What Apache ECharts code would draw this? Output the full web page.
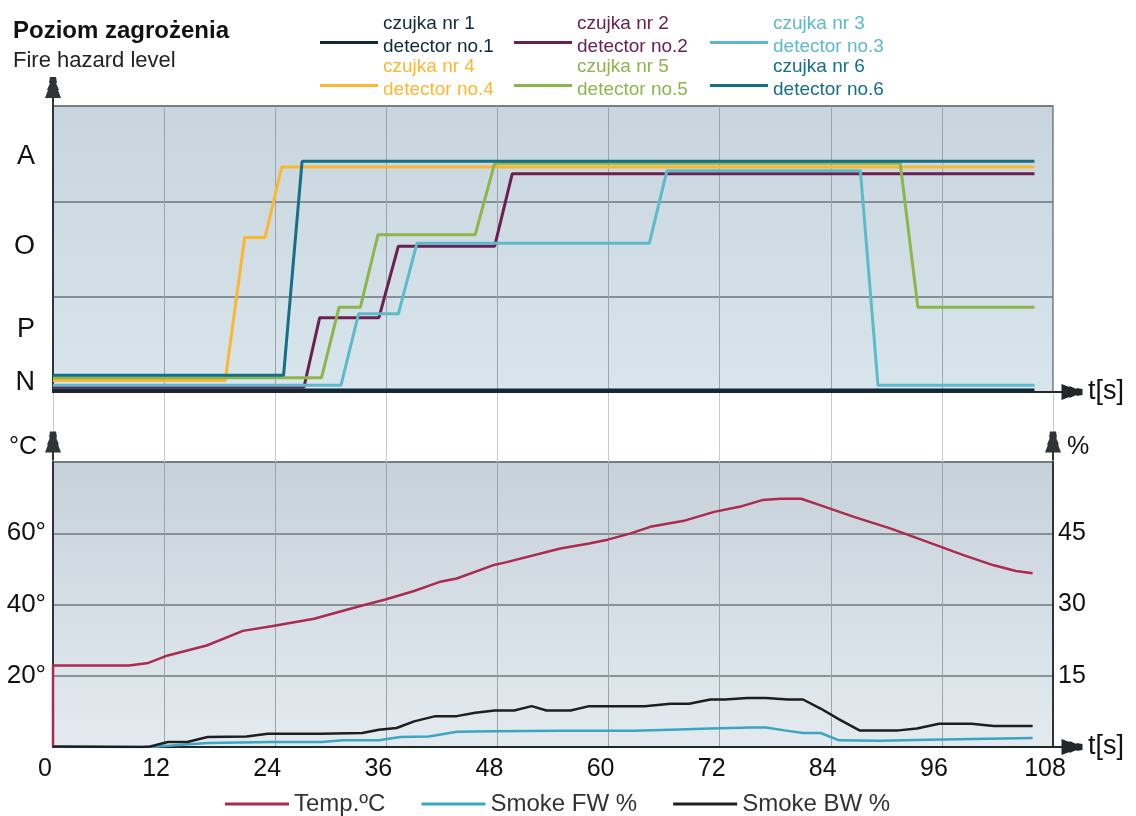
<!DOCTYPE html>
<html>
<head>
<meta charset="utf-8">
<title>Poziom zagrożenia</title>
<script src="https://cdn.jsdelivr.net/npm/echarts@6.0.0/dist/echarts.min.js"></script>
<style>
  html, body { margin: 0; padding: 0; background: #fff; }
  #chart { width: 1136px; height: 816px; }
</style>
</head>
<body>
<div id="chart"></div>
<script>
// time ticks [s]
const timeTicks = [0, 12, 24, 36, 48, 60, 72, 84, 96, 108]

// hazard level axis, one band per level step
const levelNames = ['N', 'P', 'O', 'A']
const levelTicks = [0.1, 0.66, 1.53, 2.47]

// detectors: time [s] / level
const det1T = [0, 106]
const det1V = [0.02, 0.02]
const det2T = [0, 27.1, 28.8, 35.2, 37.3, 47.7, 49.6, 106]
const det2V = [0.05, 0.05, 0.78, 0.78, 1.53, 1.53, 2.29, 2.29]
const det3T = [0, 31.1, 33.0, 37.3, 39.3, 64.4, 66.3, 87.2, 89.1, 106]
const det3V = [0.07, 0.07, 0.82, 0.82, 1.56, 1.56, 2.32, 2.32, 0.07, 0.07]
const det4T = [0, 18.6, 20.7, 22.9, 24.7, 106]
const det4V = [0.12, 0.12, 1.62, 1.62, 2.36, 2.36]
const det5T = [0, 29.0, 30.9, 33.2, 35.1, 45.6, 47.7, 91.5, 93.4, 106]
const det5V = [0.15, 0.15, 0.89, 0.89, 1.65, 1.65, 2.40, 2.40, 0.89, 0.89]
const det6T = [0, 24.9, 26.9, 106]
const det6V = [0.175, 0.175, 2.42, 2.42]

// temperature [°C]
const tempT = [0, 0, 8.2, 10.3, 12.4, 16.6, 20.5, 23.6, 28.2, 32.8, 35.9, 39.0, 41.7, 43.6, 47.5, 49.0, 54.8, 57.9, 59.9, 62.3, 64.5, 68.3, 71.4, 74.4, 76.6, 78.6, 80.8, 82.6, 86.5, 90.5, 94.5, 98.4, 101.6, 104.0, 105.8]
const tempV = [0, 22.9, 22.9, 23.6, 25.7, 28.5, 32.6, 33.9, 36.0, 39.3, 41.4, 43.8, 46.3, 47.3, 51.0, 51.9, 55.7, 57.1, 58.2, 59.9, 61.8, 63.6, 66.0, 67.6, 69.3, 69.7, 69.7, 68.1, 64.6, 61.3, 57.5, 53.8, 51.0, 49.4, 48.8]

// smoke forward / backward [%]
const fwT = [0, 10.5, 16.7, 23.6, 29.0, 31.3, 35.2, 37.5, 40.6, 43.6, 47.5, 54.8, 62.7, 66.7, 71.0, 75.4, 77.0, 79.0, 81.0, 82.9, 84.9, 89.3, 94.5, 105.8]
const fwV = [0, 0, 0.85, 1.05, 1.05, 1.4, 1.4, 2.1, 2.2, 3.2, 3.3, 3.4, 3.4, 3.65, 3.9, 4.1, 4.1, 3.5, 2.95, 2.95, 1.4, 1.3, 1.55, 1.9]
const bwT = [0, 9.7, 10.5, 12.4, 14.5, 16.7, 20.9, 23.2, 29.0, 33.4, 35.2, 37.1, 39.0, 41.3, 43.6, 45.6, 47.7, 49.8, 51.7, 53.3, 55.9, 57.9, 63.9, 66.7, 68.7, 71.0, 72.6, 75.0, 77.0, 79.4, 81.0, 82.9, 84.9, 87.1, 91.3, 93.3, 95.7, 99.2, 101.6, 105.8]
const bwV = [0.1, 0, 0.1, 1.05, 1.05, 2.1, 2.2, 2.8, 2.8, 2.95, 3.65, 4.0, 5.4, 6.5, 6.5, 7.2, 7.7, 7.7, 8.6, 7.7, 7.7, 8.6, 8.6, 9.1, 9.1, 10.0, 10.0, 10.3, 10.3, 10.0, 10.0, 8.1, 5.8, 3.5, 3.5, 3.9, 4.9, 4.9, 4.4, 4.4]

const tempTicks = [20, 40, 60]
const smokeTicks = [15, 30, 45]

const font = "'Liberation Sans', Arial, sans-serif"
const pairs = (t, v) => t.map((x, i) => [x, v[i]])

// arrow head with a short stem, pointing up
const arrowHead = 'path://M5,0L11,0L12,6L11,6L14,13L13,13L16,21L9,21L9,29L7,29L7,21L0,21L3,13L2,13L5,6L4,6Z'
// legend bar sitting in the lower part of its box (tiny dot keeps the box tall)
const legendBar = 'path://M0,0L0.05,0L0,0.05Z M0,15L58,15L58,18L0,18Z'

const plotBg = (top, bottom) => new echarts.graphic.LinearGradient(0, 0, 0, 1, [
  { offset: 0, color: top },
  { offset: 1, color: bottom }
])

const detectors = [
  { name: 'czujka nr 1\ndetector no.1', color: '#10283a', t: det1T, v: det1V, left: 320, top: 12 },
  { name: 'czujka nr 2\ndetector no.2', color: '#6a2052', t: det2T, v: det2V, left: 514, top: 12 },
  { name: 'czujka nr 3\ndetector no.3', color: '#5cbacb', t: det3T, v: det3V, left: 710, top: 12 },
  { name: 'czujka nr 4\ndetector no.4', color: '#fbb730', t: det4T, v: det4V, left: 320, top: 55 },
  { name: 'czujka nr 5\ndetector no.5', color: '#8eb54b', t: det5T, v: det5V, left: 514, top: 55 },
  { name: 'czujka nr 6\ndetector no.6', color: '#146f87', t: det6T, v: det6V, left: 710, top: 55 }
]

const detLegends = detectors.map(d => ({
  data: [d.name],
  left: d.left,
  top: d.top,
  padding: 0,
  icon: legendBar,
  itemWidth: 58,
  itemHeight: 18,
  selectedMode: false,
  textStyle: { color: d.color, fontSize: 19, lineHeight: 23, fontFamily: font }
}))

const detSeries = detectors.map(d => ({
  name: d.name,
  type: 'line',
  xAxisIndex: 0,
  yAxisIndex: 0,
  symbol: 'none',
  color: d.color,
  lineStyle: { width: 3, color: d.color },
  data: pairs(d.t, d.v)
}))

const option = {
  animation: false,
  backgroundColor: '#fff',
  title: {
    text: 'Poziom zagrożenia',
    subtext: 'Fire hazard level',
    left: 13,
    top: 19,
    padding: 0,
    itemGap: 7,
    textStyle: { fontSize: 24, fontWeight: 'bold', color: '#111', fontFamily: font },
    subtextStyle: { fontSize: 22, color: '#222', fontFamily: font }
  },
  legend: [
    ...detLegends,
    {
      data: ['Temp.ºC', 'Smoke FW %', 'Smoke BW %'],
      left: 225,
      top: 792,
      padding: 0,
      icon: 'rect',
      itemWidth: 64,
      itemHeight: 3,
      itemGap: 36,
      selectedMode: false,
      textStyle: { color: '#333', fontSize: 24, fontFamily: font }
    }
  ],
  grid: [
    { left: 53, right: 83, top: 106, height: 286, show: true, backgroundColor: plotBg('#c8d5de', '#d9e5ec'), borderColor: '#6b757b', borderWidth: 1.5 },
    { left: 53, right: 83, top: 392, height: 70 },
    { left: 53, right: 83, top: 462, height: 285, show: true, backgroundColor: plotBg('#c7d1da', '#e3ebf0'), borderColor: '#6b757b', borderWidth: 1.5 }
  ],
  xAxis: [
    {
      gridIndex: 0, type: 'value', min: 0, max: 108, interval: 12,
      name: 't[s]', nameLocation: 'end', nameGap: 35,
      nameTextStyle: { fontSize: 27, color: '#111', fontFamily: font, padding: [0, 0, 14, 0] },
      axisLine: { lineStyle: { color: '#22272a', width: 2 }, symbol: ['none', arrowHead], symbolSize: [16, 30], symbolOffset: [0, 15] },
      axisTick: { show: false },
      axisLabel: { show: false },
      splitLine: { show: true, lineStyle: { color: '#9aa4ab', width: 1 } }
    },
    {
      gridIndex: 1, type: 'value', min: 0, max: 108, interval: 12,
      axisLine: { show: false },
      axisTick: { show: false },
      axisLabel: { show: false },
      splitLine: { show: true, lineStyle: { color: '#c3cacf', width: 1 } }
    },
    {
      gridIndex: 2, type: 'value', min: 0, max: 108, interval: 12,
      name: 't[s]', nameLocation: 'end', nameGap: 35,
      nameTextStyle: { fontSize: 27, color: '#111', fontFamily: font, padding: [0, 0, 36, 0] },
      axisLine: { lineStyle: { color: '#22272a', width: 2 }, symbol: ['none', arrowHead], symbolSize: [16, 30], symbolOffset: [0, 15] },
      axisTick: { show: false },
      axisLabel: {
        customValues: timeTicks,
        fontSize: 25, color: '#111', fontFamily: font, margin: 10,
        padding: [0, 16, 0, 0]
      },
      splitLine: { show: true, lineStyle: { color: '#9aa4ab', width: 1 } }
    }
  ],
  yAxis: [
    {
      gridIndex: 0, type: 'value', min: 0, max: 3, interval: 1,
      axisLine: { show: true, lineStyle: { color: '#2e3437', width: 2 }, symbol: ['none', arrowHead], symbolSize: [16, 29], symbolOffset: [0, 14.5] },
      axisTick: { show: false },
      axisLabel: {
        customValues: levelTicks,
        formatter: v => levelNames[levelTicks.indexOf(v)],
        fontSize: 27, color: '#111', fontFamily: font, margin: 18
      },
      splitLine: { show: true, lineStyle: { color: '#6d777d', width: 1.5 } }
    },
    { gridIndex: 1, type: 'value', min: 0, max: 1, show: false },
    {
      gridIndex: 2, type: 'value', min: 0, max: 80, interval: 20,
      name: '°C', nameLocation: 'end', nameGap: 15,
      nameTextStyle: { fontSize: 25, color: '#111', fontFamily: font, align: 'right', verticalAlign: 'middle', padding: [0, 16, 0, 0] },
      axisLine: { show: true, lineStyle: { color: '#2e3437', width: 2 }, symbol: ['none', arrowHead], symbolSize: [16, 32], symbolOffset: [0, 16] },
      axisTick: { show: false },
      axisLabel: {
        customValues: tempTicks,
        formatter: v => v + '°',
        fontSize: 26, color: '#111', fontFamily: font, margin: 7,
        verticalAlign: 'middle', padding: [0, 0, 26, 0]
      },
      splitLine: { show: true, lineStyle: { color: '#6d777d', width: 1.5 } }
    },
    {
      gridIndex: 2, type: 'value', position: 'right', min: 0, max: 60, interval: 15,
      name: '%', nameLocation: 'end', nameGap: 15,
      nameTextStyle: { fontSize: 25, color: '#111', fontFamily: font, align: 'left', verticalAlign: 'middle', padding: [0, 0, 0, 14] },
      axisLine: { show: true, lineStyle: { color: '#2e3437', width: 2 }, symbol: ['none', arrowHead], symbolSize: [16, 32], symbolOffset: [0, 16] },
      axisTick: { show: false },
      axisLabel: {
        customValues: smokeTicks,
        fontSize: 25, color: '#111', fontFamily: font, margin: 5,
        verticalAlign: 'middle', padding: [0, 0, 16, 0]
      },
      splitLine: { show: false }
    }
  ],
  series: [
    ...detSeries,
    {
      name: 'Temp.ºC', type: 'line', xAxisIndex: 2, yAxisIndex: 2, symbol: 'none',
      color: '#ad2a4f', lineStyle: { width: 2.5, color: '#ad2a4f' },
      data: pairs(tempT, tempV)
    },
    {
      name: 'Smoke FW %', type: 'line', xAxisIndex: 2, yAxisIndex: 3, symbol: 'none',
      color: '#3aa6c2', lineStyle: { width: 2.5, color: '#3aa6c2' },
      data: pairs(fwT, fwV)
    },
    {
      name: 'Smoke BW %', type: 'line', xAxisIndex: 2, yAxisIndex: 3, symbol: 'none',
      color: '#1e1e1e', lineStyle: { width: 2.5, color: '#1e1e1e' },
      data: pairs(bwT, bwV)
    }
  ]
}

const chart = echarts.init(document.getElementById('chart'))
chart.setOption(option)
</script>
</body>
</html>
